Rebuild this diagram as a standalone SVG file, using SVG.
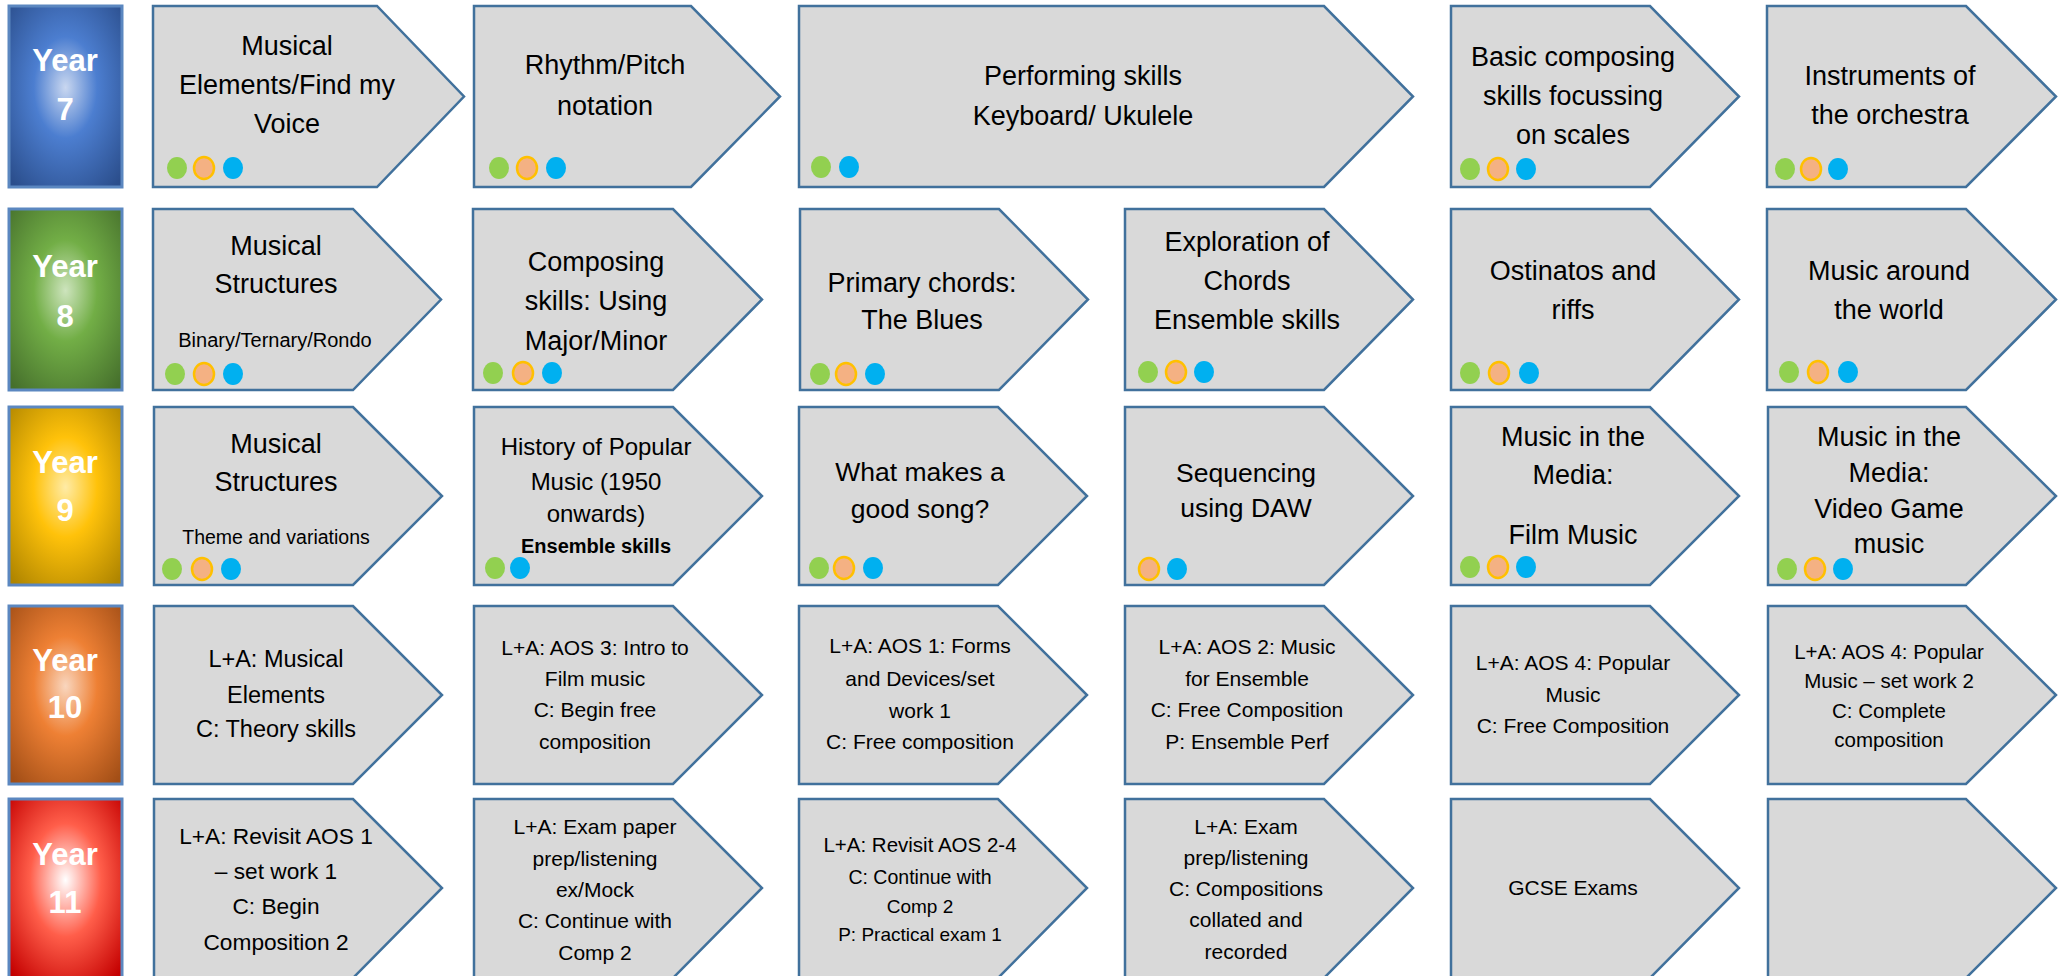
<svg xmlns="http://www.w3.org/2000/svg" width="2065" height="976" viewBox="0 0 2065 976">
<style>
.chev{fill:#D9D9D9;stroke:#41719C;stroke-width:2.5;stroke-linejoin:miter}
.yb{stroke:#5B87C0;stroke-width:3}
.yt{font-family:"Liberation Sans",Arial,sans-serif;font-weight:bold;font-size:31px;fill:#FFFFFF;text-anchor:middle}
.t{font-family:"Liberation Sans",Arial,sans-serif;fill:#000000;text-anchor:middle}
.h{font-size:27px}
.m{font-size:23.5px}
.s{font-size:21px}
.xs{font-size:19.5px}
.b{font-weight:bold}
.g{fill:#92D050}
.o{fill:#F4B183;stroke:#FFC000;stroke-width:2.5}
.c{fill:#00B0F0}
</style>
<defs>
<radialGradient id="gy7" cx="0.5" cy="0.45" r="0.7">
<stop offset="0" stop-color="#C9D7F0"/><stop offset="0.4" stop-color="#4C7ED0"/><stop offset="1" stop-color="#2B4E8C"/>
</radialGradient>
<radialGradient id="gy8" cx="0.5" cy="0.45" r="0.7">
<stop offset="0" stop-color="#CDE4BD"/><stop offset="0.4" stop-color="#72AE46"/><stop offset="1" stop-color="#46702C"/>
</radialGradient>
<radialGradient id="gy9" cx="0.5" cy="0.45" r="0.7">
<stop offset="0" stop-color="#FFEBA6"/><stop offset="0.4" stop-color="#FFC20A"/><stop offset="1" stop-color="#AF8500"/>
</radialGradient>
<radialGradient id="gy10" cx="0.5" cy="0.45" r="0.7">
<stop offset="0" stop-color="#F9D6BE"/><stop offset="0.4" stop-color="#EE8034"/><stop offset="1" stop-color="#A24E16"/>
</radialGradient>
<radialGradient id="gy11" cx="0.5" cy="0.45" r="0.7">
<stop offset="0" stop-color="#FFFFFF"/><stop offset="0.45" stop-color="#FF5E4A"/><stop offset="1" stop-color="#C40000"/>
</radialGradient>
</defs>

<g id="year7"><rect class="yb" x="9" y="6" width="113" height="181" fill="url(#gy7)"/><text class="yt" x="65" y="71">Year</text><text class="yt" x="65" y="120">7</text></g>
<g id="year8"><rect class="yb" x="9" y="209" width="113" height="181" fill="url(#gy8)"/><text class="yt" x="65" y="277">Year</text><text class="yt" x="65" y="327">8</text></g>
<g id="year9"><rect class="yb" x="9" y="407" width="113" height="178" fill="url(#gy9)"/><text class="yt" x="65" y="473">Year</text><text class="yt" x="65" y="521">9</text></g>
<g id="year10"><rect class="yb" x="9" y="606" width="113" height="178" fill="url(#gy10)"/><text class="yt" x="65" y="671">Year</text><text class="yt" x="65" y="718">10</text></g>
<g id="year11"><rect class="yb" x="9" y="799" width="113" height="180" fill="url(#gy11)"/><text class="yt" x="65" y="865">Year</text><text class="yt" x="65" y="913">11</text></g>

<g id="connectors"></g>

<!-- Row Year 7 -->
<g id="y7-1"><path class="chev" d="M153 6H377L464 96.5L377 187H153Z"/>
<text class="t h" x="287" y="55">Musical</text><text class="t h" x="287" y="94">Elements/Find my</text><text class="t h" x="287" y="133">Voice</text>
<ellipse class="g" cx="177" cy="168" rx="10" ry="11"/><ellipse class="o" cx="204" cy="168" rx="10" ry="11"/><ellipse class="c" cx="233" cy="168" rx="10" ry="11"/></g>
<g id="y7-2"><path class="chev" d="M474 6H691L780 96.5L691 187H474Z"/>
<text class="t h" x="605" y="74">Rhythm/Pitch</text><text class="t h" x="605" y="115">notation</text>
<ellipse class="g" cx="499" cy="168" rx="10" ry="11"/><ellipse class="o" cx="527" cy="168" rx="10" ry="11"/><ellipse class="c" cx="556" cy="168" rx="10" ry="11"/></g>
<g id="y7-3"><path class="chev" d="M799 6H1324L1413 96.5L1324 187H799Z"/>
<text class="t h" x="1083" y="85">Performing skills</text><text class="t h" x="1083" y="125">Keyboard/ Ukulele</text>
<ellipse class="g" cx="821" cy="167" rx="10" ry="11"/><ellipse class="c" cx="849" cy="167" rx="10" ry="11"/></g>
<g id="y7-4"><path class="chev" d="M1451 6H1650L1739 96.5L1650 187H1451Z"/>
<text class="t h" x="1573" y="66">Basic composing</text><text class="t h" x="1573" y="105">skills focussing</text><text class="t h" x="1573" y="144">on scales</text>
<ellipse class="g" cx="1470" cy="169" rx="10" ry="11"/><ellipse class="o" cx="1498" cy="169" rx="10" ry="11"/><ellipse class="c" cx="1526" cy="169" rx="10" ry="11"/></g>
<g id="y7-5"><path class="chev" d="M1767 6H1966L2056 96.5L1966 187H1767Z"/>
<text class="t h" x="1890" y="85">Instruments of</text><text class="t h" x="1890" y="124">the orchestra</text>
<ellipse class="g" cx="1785" cy="169" rx="10" ry="11"/><ellipse class="o" cx="1811" cy="169" rx="10" ry="11"/><ellipse class="c" cx="1838" cy="169" rx="10" ry="11"/></g>

<!-- Row Year 8 -->
<g id="y8-1"><path class="chev" d="M153 209H353L441 299.5L353 390H153Z"/>
<text class="t h" x="276" y="255">Musical</text><text class="t h" x="276" y="293">Structures</text><text class="t" font-size="20" x="275" y="347">Binary/Ternary/Rondo</text>
<ellipse class="g" cx="175" cy="374" rx="10" ry="11"/><ellipse class="o" cx="204" cy="374" rx="10" ry="11"/><ellipse class="c" cx="233" cy="374" rx="10" ry="11"/></g>
<g id="y8-2"><path class="chev" d="M473 209H673L762 299.5L673 390H473Z"/>
<text class="t h" x="596" y="271">Composing</text><text class="t h" x="596" y="310">skills: Using</text><text class="t h" x="596" y="350">Major/Minor</text>
<ellipse class="g" cx="493" cy="373" rx="10" ry="11"/><ellipse class="o" cx="523" cy="373" rx="10" ry="11"/><ellipse class="c" cx="552" cy="373" rx="10" ry="11"/></g>
<g id="y8-3"><path class="chev" d="M800 209H999L1088 299.5L999 390H800Z"/>
<text class="t h" x="922" y="292">Primary chords:</text><text class="t h" x="922" y="329">The Blues</text>
<ellipse class="g" cx="820" cy="374" rx="10" ry="11"/><ellipse class="o" cx="846" cy="374" rx="10" ry="11"/><ellipse class="c" cx="875" cy="374" rx="10" ry="11"/></g>
<g id="y8-4"><path class="chev" d="M1125 209H1324L1413 299.5L1324 390H1125Z"/>
<text class="t h" x="1247" y="251">Exploration of</text><text class="t h" x="1247" y="290">Chords</text><text class="t h" x="1247" y="329">Ensemble skills</text>
<ellipse class="g" cx="1148" cy="372" rx="10" ry="11"/><ellipse class="o" cx="1176" cy="372" rx="10" ry="11"/><ellipse class="c" cx="1204" cy="372" rx="10" ry="11"/></g>
<g id="y8-5"><path class="chev" d="M1451 209H1650L1739 299.5L1650 390H1451Z"/>
<text class="t h" x="1573" y="280">Ostinatos and</text><text class="t h" x="1573" y="319">riffs</text>
<ellipse class="g" cx="1470" cy="373" rx="10" ry="11"/><ellipse class="o" cx="1499" cy="373" rx="10" ry="11"/><ellipse class="c" cx="1529" cy="373" rx="10" ry="11"/></g>
<g id="y8-6"><path class="chev" d="M1767 209H1966L2056 299.5L1966 390H1767Z"/>
<text class="t h" x="1889" y="280">Music around</text><text class="t h" x="1889" y="319">the world</text>
<ellipse class="g" cx="1789" cy="372" rx="10" ry="11"/><ellipse class="o" cx="1818" cy="372" rx="10" ry="11"/><ellipse class="c" cx="1848" cy="372" rx="10" ry="11"/></g>

<!-- Row Year 9 -->
<g id="y9-1"><path class="chev" d="M154 407H353L442 496L353 585H154Z"/>
<text class="t h" x="276" y="453">Musical</text><text class="t h" x="276" y="491">Structures</text><text class="t xs" x="276" y="544">Theme and variations</text>
<ellipse class="g" cx="172" cy="569" rx="10" ry="11"/><ellipse class="o" cx="202" cy="569" rx="10" ry="11"/><ellipse class="c" cx="231" cy="569" rx="10" ry="11"/></g>
<g id="y9-2"><path class="chev" d="M474 407H673L762 496L673 585H474Z"/>
<text class="t" font-size="24" x="596" y="455">History of Popular</text><text class="t" font-size="24" x="596" y="490">Music (1950</text><text class="t" font-size="24" x="596" y="522">onwards)</text><text class="t b" font-size="20" x="596" y="553">Ensemble skills</text>
<ellipse class="g" cx="495" cy="568" rx="10" ry="11"/><ellipse class="c" cx="520" cy="568" rx="10" ry="11"/></g>
<g id="y9-3"><path class="chev" d="M799 407H998L1087 496L998 585H799Z"/>
<text class="t" font-size="26.5" x="920" y="481">What makes a</text><text class="t" font-size="26.5" x="920" y="518">good song?</text>
<ellipse class="g" cx="819" cy="568" rx="10" ry="11"/><ellipse class="o" cx="844" cy="568" rx="10" ry="11"/><ellipse class="c" cx="873" cy="568" rx="10" ry="11"/></g>
<g id="y9-4"><path class="chev" d="M1125 407H1324L1413 496L1324 585H1125Z"/>
<text class="t" font-size="26.5" x="1246" y="482">Sequencing</text><text class="t" font-size="26.5" x="1246" y="517">using DAW</text>
<ellipse class="o" cx="1149" cy="569" rx="10" ry="11"/><ellipse class="c" cx="1177" cy="569" rx="10" ry="11"/></g>
<g id="y9-5"><path class="chev" d="M1451 407H1650L1739 496L1650 585H1451Z"/>
<text class="t h" x="1573" y="446">Music in the</text><text class="t h" x="1573" y="484">Media:</text><text class="t h" x="1573" y="544">Film Music</text>
<ellipse class="g" cx="1470" cy="567" rx="10" ry="11"/><ellipse class="o" cx="1498" cy="567" rx="10" ry="11"/><ellipse class="c" cx="1526" cy="567" rx="10" ry="11"/></g>
<g id="y9-6"><path class="chev" d="M1768 407H1966L2056 496L1966 585H1768Z"/>
<text class="t h" x="1889" y="446">Music in the</text><text class="t h" x="1889" y="482">Media:</text><text class="t h" x="1889" y="518">Video Game</text><text class="t h" x="1889" y="553">music</text>
<ellipse class="g" cx="1787" cy="569" rx="10" ry="11"/><ellipse class="o" cx="1815" cy="569" rx="10" ry="11"/><ellipse class="c" cx="1843" cy="569" rx="10" ry="11"/></g>

<!-- Row Year 10 -->
<g id="y10-1"><path class="chev" d="M154 606H353L442 695L353 784H154Z"/>
<text class="t m" x="276" y="667">L+A: Musical</text><text class="t m" x="276" y="703">Elements</text><text class="t m" x="276" y="737">C: Theory skills</text></g>
<g id="y10-2"><path class="chev" d="M474 606H673L762 695L673 784H474Z"/>
<text class="t s" x="595" y="655">L+A: AOS 3: Intro to</text><text class="t s" x="595" y="686">Film music</text><text class="t s" x="595" y="717">C: Begin free</text><text class="t s" x="595" y="749">composition</text></g>
<g id="y10-3"><path class="chev" d="M799 606H998L1087 695L998 784H799Z"/>
<text class="t s" x="920" y="653">L+A: AOS 1: Forms</text><text class="t s" x="920" y="686">and Devices/set</text><text class="t s" x="920" y="718">work 1</text><text class="t s" x="920" y="749">C: Free composition</text></g>
<g id="y10-4"><path class="chev" d="M1125 606H1324L1413 695L1324 784H1125Z"/>
<text class="t s" x="1247" y="654">L+A: AOS 2: Music</text><text class="t s" x="1247" y="686">for Ensemble</text><text class="t s" x="1247" y="717">C: Free Composition</text><text class="t s" x="1247" y="749">P: Ensemble Perf</text></g>
<g id="y10-5"><path class="chev" d="M1451 606H1650L1739 695L1650 784H1451Z"/>
<text class="t s" x="1573" y="670">L+A: AOS 4: Popular</text><text class="t s" x="1573" y="702">Music</text><text class="t s" x="1573" y="733">C: Free Composition</text></g>
<g id="y10-6"><path class="chev" d="M1768 606H1966L2056 695L1966 784H1768Z"/>
<text class="t" font-size="20.5" x="1889" y="659">L+A: AOS 4: Popular</text><text class="t" font-size="20.5" x="1889" y="688">Music – set work 2</text><text class="t" font-size="20.5" x="1889" y="718">C: Complete</text><text class="t" font-size="20.5" x="1889" y="747">composition</text></g>

<!-- Row Year 11 -->
<g id="y11-1"><path class="chev" d="M154 799H353L442 888L353 978H154Z"/>
<text class="t" font-size="22.7" x="276" y="844">L+A: Revisit AOS 1</text><text class="t" font-size="22.7" x="276" y="879">– set work 1</text><text class="t" font-size="22.7" x="276" y="914">C: Begin</text><text class="t" font-size="22.7" x="276" y="950">Composition 2</text></g>
<g id="y11-2"><path class="chev" d="M474 799H673L762 888L673 978H474Z"/>
<text class="t s" x="595" y="834">L+A: Exam paper</text><text class="t s" x="595" y="866">prep/listening</text><text class="t s" x="595" y="897">ex/Mock</text><text class="t s" x="595" y="928">C: Continue with</text><text class="t s" x="595" y="960">Comp 2</text></g>
<g id="y11-3"><path class="chev" d="M799 799H998L1087 888L998 978H799Z"/>
<text class="t" font-size="20.5" x="920" y="852">L+A: Revisit AOS 2-4</text><text class="t" font-size="19.5" x="920" y="884">C: Continue with</text><text class="t" font-size="19" x="920" y="913">Comp 2</text><text class="t" font-size="19" x="920" y="941">P: Practical exam 1</text></g>
<g id="y11-4"><path class="chev" d="M1125 799H1324L1413 888L1324 978H1125Z"/>
<text class="t s" x="1246" y="834">L+A: Exam</text><text class="t s" x="1246" y="865">prep/listening</text><text class="t s" x="1246" y="896">C: Compositions</text><text class="t s" x="1246" y="927">collated and</text><text class="t s" x="1246" y="959">recorded</text></g>
<g id="y11-5"><path class="chev" d="M1451 799H1650L1739 888L1650 978H1451Z"/>
<text class="t s" x="1573" y="895">GCSE Exams</text></g>
<g id="y11-6"><path class="chev" d="M1768 799H1966L2056 888L1966 978H1768Z"/></g>
</svg>
